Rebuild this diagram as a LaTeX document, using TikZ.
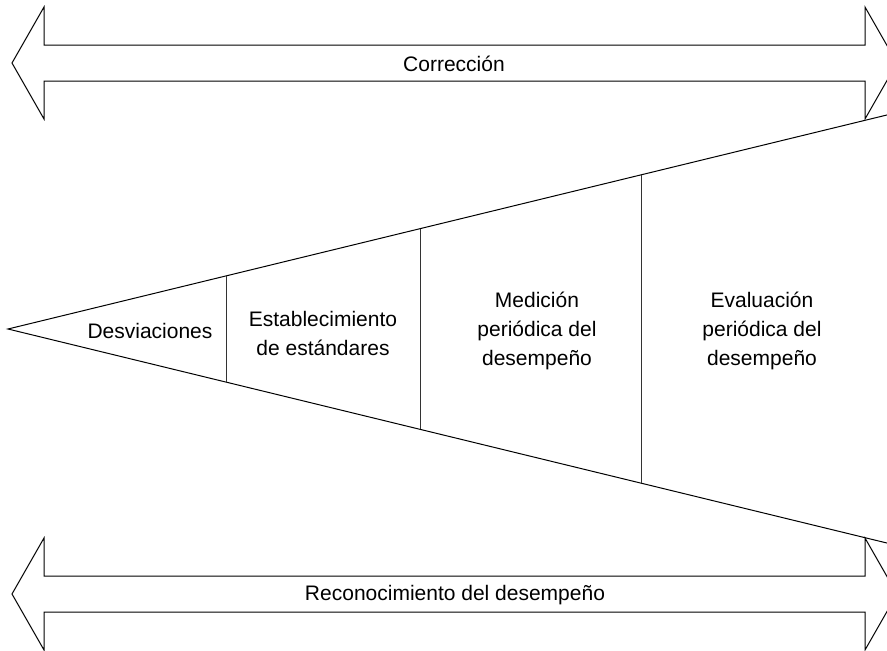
\documentclass[tikz,border=0pt]{standalone}
\usepackage{fontspec}
\setmainfont{Liberation Sans}
\begin{document}
\begin{tikzpicture}[x=1pt,y=-1pt,
  lbl/.style={font=\fontsize{21}{29}\selectfont, align=center, inner sep=0pt},
  outline/.style={draw=black, line width=1pt, line join=miter},
  divider/.style={draw=black!80, line width=1pt}]
\useasboundingbox (0,0) rectangle (887,651);
\clip (0,0) rectangle (887,651);
% top double arrow
\draw[outline] (12,63) -- (44,7) -- (44,45) -- (865,45) -- (865,7) -- (897,63)
  -- (865,119) -- (865,81) -- (44,81) -- (44,119) -- cycle;
% bottom double arrow
\draw[outline] (12,594) -- (44,538) -- (44,576) -- (865,576) -- (865,538) -- (897,594)
  -- (865,650) -- (865,612) -- (44,612) -- (44,650) -- cycle;
% wedge
\coordinate (apex) at (8,329);
\coordinate (topend) at (900,111.8);
\coordinate (botend) at (900,546.2);
\draw[outline] (topend) -- (apex) -- (botend);
% dividers
\draw[divider] (226,275.9) -- (226,382.1);
\draw[divider] (420,228.7) -- (420,429.3);
\draw[divider] (641,174.9) -- (641,483.1);
% labels
\node[lbl] (corr) at (454,64) {Corrección};
\node[lbl] (reco) at (455,595) {Reconocimiento del desempeño};
\node[lbl] (desv) at (150,331) {Desviaciones};
\node[lbl] (est) at (323,333) {Establecimiento\\de estándares};
\node[lbl] (med) at (537,331) {Medición\\periódica del\\desempeño};
\node[lbl] (eval) at (762,331) {Evaluación\\periódica del\\desempeño};
\end{tikzpicture}
\end{document}
